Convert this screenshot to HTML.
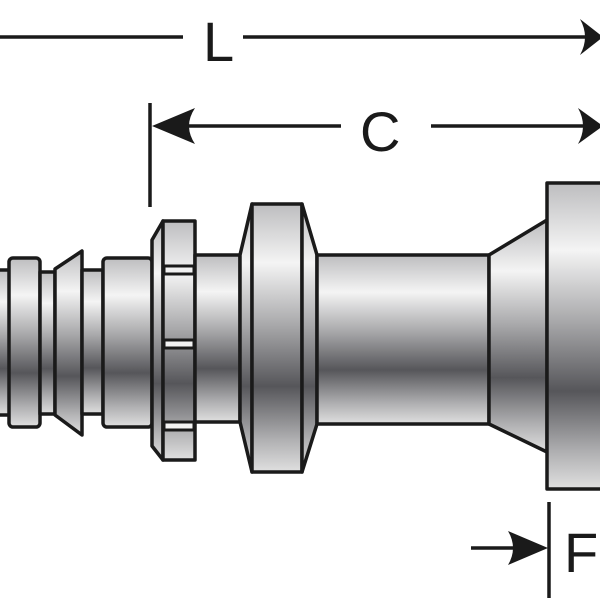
<!DOCTYPE html>
<html><head><style>html,body{margin:0;padding:0;background:#fff}svg{display:block}</style></head>
<body>
<svg width="600" height="600" viewBox="0 0 600 600" xmlns="http://www.w3.org/2000/svg">
<defs>
<linearGradient id="g" x1="0" y1="0" x2="0" y2="1">
<stop offset="0" stop-color="#bdbdbf"/>
<stop offset="0.22" stop-color="#f4f4f4"/>
<stop offset="0.45" stop-color="#a9a9ab"/>
<stop offset="0.68" stop-color="#56565a"/>
<stop offset="0.88" stop-color="#b0b0b2"/>
<stop offset="1" stop-color="#e0e0e0"/>
</linearGradient>
</defs>
<g stroke="#1a1a1a" stroke-width="3.5" fill="url(#g)" stroke-linejoin="round">
<!-- left tube -->
<rect x="-5" y="270" width="17" height="145"/>
<rect x="9" y="258" width="31" height="169" rx="4"/>
<rect x="40" y="272" width="15" height="142"/>
<polygon points="55,269 82,251 82,435 55,415"/>
<rect x="82" y="270" width="21" height="144"/>
<rect x="103" y="258" width="49" height="169" rx="4"/>
<!-- nut -->
<polygon points="152,240 163,221 163,460 152,446"/>
<rect x="163" y="221" width="32" height="239"/>
<rect x="195" y="255" width="45" height="167"/>
<!-- flange -->
<polygon points="240,255 252,204 252,472 240,422"/>
<rect x="252" y="204" width="50" height="268"/>
<polygon points="302,204 317,255 317,424 302,472"/>
<rect x="317" y="255" width="172" height="169"/>
<polygon points="489,255 547,220 547,452 489,424"/>
<rect x="547" y="183" width="60" height="306"/>
</g>
<!-- nut slots -->
<g fill="#f2f2f2" stroke="#1a1a1a" stroke-width="3">
<rect x="164" y="266" width="30" height="8"/>
<rect x="164" y="340" width="30" height="8"/>
<rect x="164" y="422" width="30" height="8"/>
</g>
<!-- dimension lines -->
<g stroke="#1a1a1a" stroke-width="3.5" fill="none">
<line x1="0" y1="37" x2="183" y2="37"/>
<line x1="243" y1="37" x2="590" y2="37"/>
<line x1="150" y1="103" x2="150" y2="207"/>
<line x1="158" y1="126" x2="341" y2="126"/>
<line x1="431" y1="126" x2="590" y2="126"/>
<line x1="549" y1="502" x2="549" y2="598"/>
<line x1="471" y1="548" x2="530" y2="548"/>
</g>
<g fill="#1a1a1a">
<path d="M603,37 L580,19 Q590,37 580,55 Z"/>
<path d="M603,126 L578,108 Q588,126 578,144 Z"/>
<path d="M152,126 L195,108 Q183,126 195,144 Z"/>
<path d="M548,548 L508,531 Q518,548 508,565 Z"/>
</g>
<g font-family="Liberation Sans, sans-serif" font-size="56" fill="#1a1a1a">
<text x="203" y="61">L</text>
<text x="360" y="151">C</text>
<text x="564" y="572">F</text>
</g>
</svg>
</body></html>
